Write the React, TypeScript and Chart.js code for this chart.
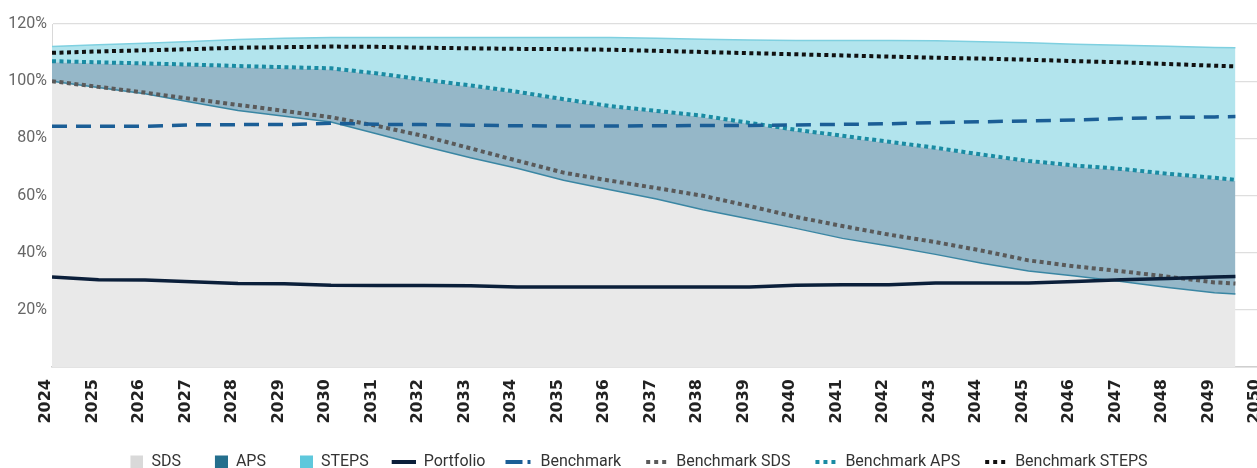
import React, { useEffect, useRef } from 'react';
import { Chart, registerables } from 'chart.js';

Chart.register(...registerables);

// ---- data ----
const years = [2024, 2025, 2026, 2027, 2028, 2029, 2030, 2031, 2032, 2033, 2034, 2035, 2036, 2037, 2038, 2039, 2040, 2041, 2042, 2043, 2044, 2045, 2046, 2047, 2048, 2049, 2049.45];

const sdsArea = [100.0, 97.8, 95.6, 92.6, 89.7, 87.7, 85.7, 81.5, 77.2, 73.2, 69.5, 65.3, 62.0, 58.8, 55.0, 51.8, 48.5, 45.0, 42.3, 39.4, 36.3, 33.6, 31.8, 29.9, 27.8, 26.0, 25.5];
const apsArea = [106.6, 106.2, 105.8, 105.4, 104.9, 104.5, 104.1, 102.3, 100.1, 98.1, 95.9, 93.3, 90.9, 89.2, 87.5, 85.0, 82.6, 80.5, 78.4, 76.3, 73.9, 71.7, 70.1, 68.9, 67.2, 65.8, 65.1];
const stepsArea = [112.1, 112.7, 113.3, 113.9, 114.6, 115.0, 115.3, 115.3, 115.3, 115.3, 115.3, 115.3, 115.3, 115.0, 114.7, 114.4, 114.2, 114.2, 114.2, 114.1, 113.8, 113.4, 112.9, 112.6, 112.2, 111.8, 111.7];
const portfolio = [31.5, 30.5, 30.4, 29.8, 29.2, 29.1, 28.6, 28.5, 28.5, 28.4, 28.0, 28.0, 28.0, 28.0, 28.0, 28.0, 28.6, 28.8, 28.8, 29.4, 29.4, 29.4, 29.9, 30.5, 31.0, 31.5, 31.7];
const benchmark = [84.2, 84.2, 84.2, 84.7, 84.8, 84.8, 85.3, 84.9, 84.8, 84.6, 84.4, 84.3, 84.3, 84.4, 84.5, 84.5, 84.7, 84.9, 85.1, 85.5, 85.8, 86.1, 86.4, 86.9, 87.3, 87.5, 87.6];
const benchmarkSds = [100.0, 98.0, 96.0, 93.8, 91.7, 89.6, 87.4, 84.3, 80.8, 76.5, 72.2, 68.0, 65.2, 62.6, 59.9, 56.3, 52.5, 49.3, 46.3, 43.7, 40.7, 37.3, 35.2, 33.5, 31.6, 29.6, 29.2];
const benchmarkAps = [107.0, 106.6, 106.2, 105.8, 105.3, 104.9, 104.5, 102.7, 100.5, 98.5, 96.3, 93.7, 91.3, 89.6, 87.9, 85.4, 83.0, 80.9, 78.8, 76.7, 74.3, 72.1, 70.5, 69.3, 67.6, 66.2, 65.5];
const benchmarkSteps = [109.9, 110.4, 110.8, 111.2, 111.7, 111.9, 112.1, 112.0, 111.7, 111.5, 111.3, 111.2, 111.0, 110.6, 110.2, 109.8, 109.4, 109.0, 108.6, 108.2, 107.9, 107.5, 107.0, 106.6, 106.0, 105.4, 105.2];

const xTickLabels = ['2024', '2025', '2026', '2027', '2028', '2029', '2030', '2031', '2032', '2033', '2034', '2035', '2036', '2037', '2038', '2039', '2040', '2041', '2042', '2043', '2044', '2045', '2046', '2047', '2048', '2049', '2050'];
const yTickLabels = ['', '20%', '40%', '60%', '80%', '100%', '120%'];

const seriesNames = ['SDS', 'APS', 'STEPS', 'Portfolio', 'Benchmark', 'Benchmark SDS', 'Benchmark APS', 'Benchmark STEPS'];

const SANS = 'Roboto, "Noto Sans", sans-serif';

function pts(values: number[]) {
  return values.map((y, i) => ({ x: years[i], y }));
}

function makeSwatch(kind: 'box' | 'line', color: string, dash: number[] = [], lw = 4, len = 24) {
  const W = 30;
  const H = 14;
  const c = document.createElement('canvas');
  c.width = W;
  c.height = H;
  const ctx = c.getContext('2d')!;
  if (kind === 'box') {
    ctx.fillStyle = color;
    ctx.fillRect(W - 13, 0.5, 13, 13);
  } else {
    ctx.strokeStyle = color;
    ctx.lineWidth = lw;
    ctx.setLineDash(dash);
    ctx.beginPath();
    ctx.moveTo(W - len, H / 2);
    ctx.lineTo(W, H / 2);
    ctx.stroke();
  }
  return c;
}

export default function App() {
  const ref = useRef<HTMLCanvasElement | null>(null);

  useEffect(() => {
    if (!ref.current) return;

    const swatches = [
      makeSwatch('box', '#d9d9d9'),
      makeSwatch('box', '#246f8d'),
      makeSwatch('box', '#5ec8dc'),
      makeSwatch('line', '#0b1f3a', [], 4, 24),
      makeSwatch('line', '#1b5e96', [17, 5, 3, 10], 4, 27),
      makeSwatch('line', '#5a5a5a', [4, 4], 4, 22),
      makeSwatch('line', '#1a8ba3', [4, 4], 4, 22),
      makeSwatch('line', '#111111', [4, 4], 4, 22),
    ];

    const chart = new Chart(ref.current, {
      type: 'line',
      data: {
        datasets: [
          {
            label: seriesNames[0],
            data: pts(sdsArea),
            backgroundColor: '#e9e9e9',
            borderColor: '#3a86a3',
            borderWidth: 1.5,
            fill: 'origin',
            order: 10,
          },
          {
            label: seriesNames[1],
            data: pts(apsArea),
            backgroundColor: '#95b7c8',
            borderColor: 'rgba(0,0,0,0)',
            borderWidth: 0,
            fill: 0,
            order: 11,
          },
          {
            label: seriesNames[2],
            data: pts(stepsArea),
            backgroundColor: '#b2e4ed',
            borderColor: '#7fd0e0',
            borderWidth: 1.5,
            fill: 1,
            order: 12,
          },
          {
            label: seriesNames[3],
            data: pts(portfolio),
            borderColor: '#0b1f3a',
            borderWidth: 3.5,
            fill: false,
            order: 0,
          },
          {
            label: seriesNames[4],
            data: pts(benchmark),
            borderColor: '#1b5e96',
            borderWidth: 3.5,
            borderDash: [15, 9],
            fill: false,
            order: 1,
          },
          {
            label: seriesNames[5],
            data: pts(benchmarkSds),
            borderColor: '#5a5a5a',
            borderWidth: 4,
            borderDash: [4, 3.5],
            fill: false,
            order: 2,
          },
          {
            label: seriesNames[6],
            data: pts(benchmarkAps),
            borderColor: '#1a8ba3',
            borderWidth: 4,
            borderDash: [4, 3.5],
            fill: false,
            order: 3,
          },
          {
            label: seriesNames[7],
            data: pts(benchmarkSteps),
            borderColor: '#111111',
            borderWidth: 4,
            borderDash: [4, 3.5],
            fill: false,
            order: 4,
          },
        ],
      },
      options: {
        animation: false,
        responsive: true,
        maintainAspectRatio: false,
        elements: {
          point: { radius: 0, hoverRadius: 0 },
          line: { tension: 0, borderCapStyle: 'butt' },
        },
        layout: { padding: { top: 24, right: 14, left: 0, bottom: 0 } },
        plugins: {
          tooltip: { enabled: false },
          legend: {
            position: 'bottom',
            labels: {
              usePointStyle: true,
              pointStyleWidth: 30,
              boxHeight: 14,
              padding: 17,
              color: '#333333',
              font: { family: SANS, size: 16 },
              generateLabels: (ch: any) =>
                ch.data.datasets.map((ds: any, i: number) => ({
                  text: ds.label,
                  fillStyle: 'rgba(0,0,0,0)',
                  strokeStyle: 'rgba(0,0,0,0)',
                  lineWidth: 0,
                  pointStyle: swatches[i],
                  hidden: !ch.isDatasetVisible(i),
                  datasetIndex: i,
                  fontColor: '#333333',
                })),
            },
          },
        },
        scales: {
          x: {
            type: 'linear',
            min: 2024,
            max: 2050,
            afterFit: (s: any) => {
              s.height = 70;
              s.paddingLeft = 0;
              s.paddingRight = 0;
            },
            grid: { display: false, drawTicks: false },
            border: { display: true, color: '#cfcfcf', width: 1.5 },
            ticks: {
              stepSize: 1,
              autoSkip: false,
              maxTicksLimit: 40,
              minRotation: 90,
              maxRotation: 90,
              padding: 12,
              labelOffset: -6,
              color: '#222222',
              font: { family: '"DejaVu Sans", Verdana, sans-serif', size: 16, weight: 'bold' },
              callback: (v: any) => xTickLabels[Math.round(Number(v) - 2024)] ?? '',
            },
          },
          y: {
            min: 0,
            max: 120,
            z: 1,
            afterFit: (s: any) => {
              s.width = 52;
            },
            grid: { color: 'rgba(0,0,0,0.13)', lineWidth: 1.2, drawTicks: false },
            border: { display: true, color: 'rgba(0,0,0,0.15)' },
            ticks: {
              stepSize: 20,
              padding: 5,
              color: '#666666',
              font: { family: SANS, size: 16 },
              callback: (v: any) => yTickLabels[Math.round(Number(v) / 20)] ?? '',
            },
          },
        },
      },
    });

    return () => chart.destroy();
  }, []);

  return (
    <div style={{ position: 'fixed', left: 0, top: 0, width: '100vw', height: '100vh', overflow: 'hidden', background: '#fff' }}>
      <div style={{ position: 'absolute', left: 0, top: 0, width: 1275, height: 480 }}>
        <canvas ref={ref} />
      </div>
    </div>
  );
}
